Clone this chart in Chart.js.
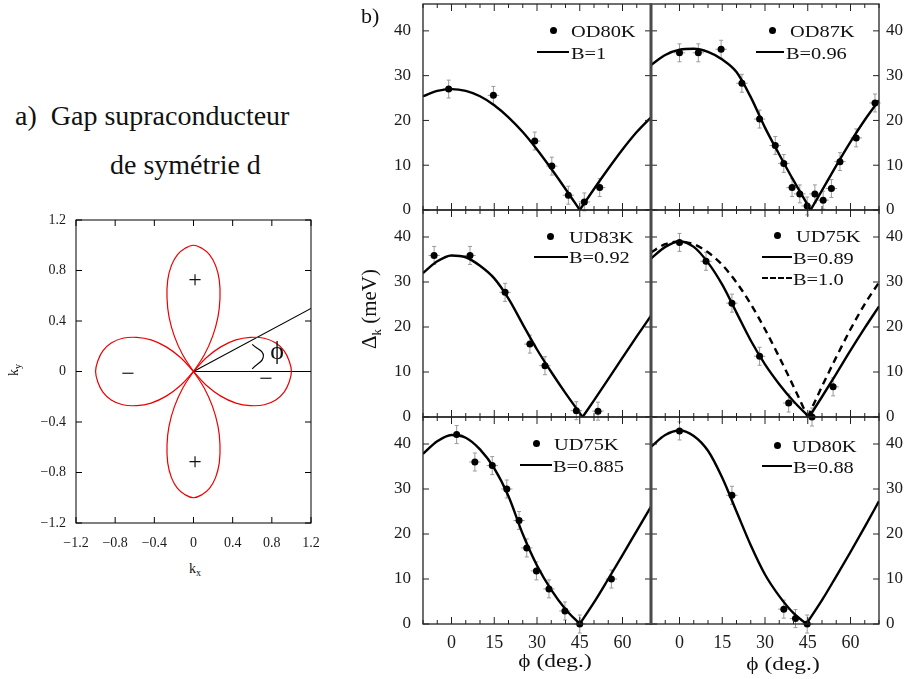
<!DOCTYPE html>
<html lang="fr">
<head>
<meta charset="utf-8">
<title>Gap supraconducteur de symétrie d</title>
<script src="https://cdn.jsdelivr.net/npm/chart.js@4.4.1/dist/chart.umd.min.js"></script>
<style>
  html, body { margin:0; padding:0; background:#fff; }
  body { width:913px; height:679px; position:relative; overflow:hidden;
         font-family:"Liberation Serif", "Times New Roman", serif; color:#111; }
  canvas { position:absolute; }
  .t { position:absolute; white-space:nowrap; line-height:1; }
  .dot { position:absolute; width:7px; height:7px; border-radius:50%; background:#000; }
  .trait { position:absolute; height:0; border-top:2.4px solid #000; }
  .tirets { border-top-style:dashed; }
</style>
</head>
<body>

<canvas id="cPolar" width="320" height="353" style="left:20px;top:200px"></canvas>
<canvas id="cOD80" width="280" height="222" style="left:379px;top:0px"></canvas>
<canvas id="cOD87" width="270" height="222" style="left:643px;top:0px"></canvas>
<canvas id="cUD83" width="280" height="231" style="left:379px;top:198px"></canvas>
<canvas id="cUD75a" width="270" height="231" style="left:643px;top:198px"></canvas>
<canvas id="cUD75b" width="280" height="264" style="left:379px;top:405px"></canvas>
<canvas id="cUD80" width="270" height="264" style="left:643px;top:405px"></canvas>

<script>
// ---------- a) lobes de la fonction gap d : rayon (0 à 45°)
const lobeAngles = [0, 5, 10, 15, 20, 25, 30, 35, 40, 45];
const lobeRadius = [1, 0.98, 0.94, 0.87, 0.77, 0.64, 0.5, 0.34, 0.17, 0];
const lobeCentres = [0, 90, 180, 270];
const polarTicks = [-1.2, -0.8, -0.4, 0, 0.4, 0.8, 1.2];
const axePhi = [{x: 0, y: 0}, {x: 1.2, y: 0}];
const rayonPhi = [{x: 0, y: 0}, {x: 1.2, y: 0.5}];
const arcPhi = [{x: 0.6, y: 0.215}, {x: 0.714, y: 0.124}, {x: 0.6, y: 0.02}];

// ---------- b) gap mesuré Δk (meV) en fonction de ϕ (deg.)
const phiMajor = [0, 15, 30, 45, 60];
const phiMinor = [-10, -5, 0, 5, 10, 15, 20, 25, 30, 35, 40, 45, 50, 55, 60, 65, 70];
const gapTicks = [0, 10, 20, 30, 40];
const ERR_GAP = 2;
const ERR_PHI = 2;

// OD80K, B=1
const od80Phi = [-1, 14.7, 29.2, 35.2, 41, 46.6, 52];
const od80Gap = [27, 25.6, 15.4, 9.8, 3.3, 1.8, 5];
const od80FitPhi = [-10, -5, 0, 5, 10, 15, 20, 25, 30, 35, 40, 45, 50, 55, 60, 65, 70];
const od80Fit = [25.4, 26.6, 27, 26.6, 25.4, 23.4, 20.7, 17.4, 13.5, 9.2, 4.7, 0, 4.7, 9.2, 13.5, 17.4, 20.7];

// OD87K, B=0.96
const od87Phi = [0, 6.6, 14.6, 21.9, 28.1, 33.6, 36.6, 39.5, 42.2, 44.8, 47.5, 50.4, 53.3, 56.3, 62, 68.6];
const od87Gap = [35.1, 35.1, 35.9, 28.3, 20.3, 14.4, 10.4, 5, 3.6, 0.9, 3.6, 2.2, 4.8, 10.8, 16.1, 23.9];
const od87FitPhi = [-10, -5, 0, 5, 10, 15, 20, 25, 30, 35, 40, 46, 50, 55, 60, 65, 70];
const od87Fit = [32.4, 34.6, 35.8, 36, 35.3, 33.6, 30.8, 25.2, 18.4, 12.4, 6.6, 0, 4.4, 9.9, 15.2, 20.1, 24.5];

// UD83K, B=0.92
const ud83Phi = [-6.1, 6.5, 18.8, 27.5, 32.8, 43.8, 51.4];
const ud83Gap = [35.9, 35.9, 27.7, 16.2, 11.4, 1.4, 1.3];
const ud83FitPhi = [-10, -5, 0, 5, 10, 15, 20, 25, 30, 35, 40, 46, 50, 55, 60, 65, 70];
const ud83Fit = [32, 34.6, 35.9, 35.5, 33.6, 30.8, 26.3, 20.6, 15, 10, 5.3, 0, 3.7, 8.4, 13.2, 17.9, 22.5];

// UD75K, B=0.89 et B=1.0
const ud75aPhi = [0, 9.3, 18.4, 28.1, 38.3, 46.5, 53.9];
const ud75aGap = [38.8, 34.6, 25.3, 13.5, 3.1, 0, 6.7];
const ud75aFitPhi = [-10, -5, 0, 5, 10, 15, 20, 25, 30, 35, 40, 45.5, 50, 55, 60, 65, 70];
const ud75aFit = [35.2, 37.8, 39, 37.8, 34.3, 29.4, 23.2, 17, 11.7, 7.3, 3.5, 0, 4.5, 9.6, 14.8, 19.8, 24.6];
const ud75aB1Phi = [-10, -5, 0, 5, 10, 15, 20, 25, 30, 35, 40, 45, 50, 55, 60, 65, 70];
const ud75aB1 = [36.6, 38.4, 39, 38.4, 36.6, 33.8, 29.9, 25.1, 19.5, 13.3, 6.8, 0, 6.8, 13.3, 19.5, 25.1, 29.9];

// UD75K, B=0.885
const ud75bPhi = [1.8, 8.2, 14.3, 19.4, 23.7, 26.4, 29.8, 34.2, 39.8, 45, 56.1];
const ud75bGap = [42.1, 36, 35.2, 30, 23, 16.9, 11.8, 7.8, 2.9, 0, 10];
const ud75bFitPhi = [-10, -5, 0, 5, 10, 15, 20, 25, 30, 35, 40, 45, 50, 55, 60, 65, 70];
const ud75bFit = [37.8, 40.6, 42, 41.4, 38.8, 34.6, 28.4, 20, 13, 7.6, 3.3, 0, 4.8, 10, 15.3, 20.7, 26.1];

// UD80K, B=0.88
const ud80Phi = [0, 18.4, 36.6, 40.7, 44.8];
const ud80Gap = [42.9, 28.6, 3.3, 1.2, 0];
const ud80FitPhi = [-10, -5, 0, 5, 10, 15, 20, 25, 30, 35, 40, 44.5, 50, 55, 60, 65, 70];
const ud80Fit = [39.4, 42, 43, 41.8, 38.5, 32.5, 25, 17.5, 11, 6.2, 2.4, 0, 5.3, 10.6, 16, 21.6, 27.3];


const SERIF = '"Liberation Serif", "Times New Roman", serif';
Chart.defaults.font.family = SERIF;
Chart.defaults.color = '#1a1a1a';

const pairs = (xs, ys) => xs.map((x, i) => ({x: x, y: ys[i]}));

// cadre + petites graduations tournées vers l'intérieur
const cadre = {
  id: 'cadre',
  afterDatasetsDraw(chart, args, o) {
    const {ctx, chartArea: a, scales} = chart;
    ctx.save();
    ctx.strokeStyle = o.color;
    ctx.lineWidth = 1;
    ctx.beginPath();
    o.xTicks.forEach(t => {
      const x = scales.x.getPixelForValue(t.v);
      ctx.moveTo(x, a.bottom); ctx.lineTo(x, a.bottom - t.len);
      ctx.moveTo(x, a.top); ctx.lineTo(x, a.top + t.len);
    });
    o.yTicks.forEach(t => {
      const y = scales.y.getPixelForValue(t.v);
      ctx.moveTo(a.left, y); ctx.lineTo(a.left + t.len, y);
      ctx.moveTo(a.right, y); ctx.lineTo(a.right - t.len, y);
    });
    ctx.stroke();
    ctx.lineWidth = o.width;
    ctx.strokeRect(a.left, a.top, a.right - a.left, a.bottom - a.top);
    if (o.divider) {
      ctx.strokeStyle = '#4a4a4a';
      ctx.lineWidth = 2.6;
      const x = o.divider === 'right' ? a.right : a.left;
      ctx.beginPath(); ctx.moveTo(x, a.top); ctx.lineTo(x, a.bottom); ctx.stroke();
    }
    ctx.restore();
  }
};

// barres d'erreur grises sous les points
const barres = {
  id: 'barres',
  beforeDatasetsDraw(chart) {
    const {ctx, scales: {x, y}} = chart;
    ctx.save();
    ctx.strokeStyle = '#9a9a9a';
    ctx.lineWidth = 1;
    chart.data.datasets.forEach(ds => {
      if (!ds.errorBars) return;
      ctx.beginPath();
      ds.data.forEach(p => {
        const px = x.getPixelForValue(p.x), py = y.getPixelForValue(p.y);
        const y0 = y.getPixelForValue(p.y - ds.errorBars.y), y1 = y.getPixelForValue(p.y + ds.errorBars.y);
        const x0 = x.getPixelForValue(p.x - ds.errorBars.x), x1 = x.getPixelForValue(p.x + ds.errorBars.x);
        ctx.moveTo(px, y0); ctx.lineTo(px, y1);
        ctx.moveTo(px - 2, y0); ctx.lineTo(px + 2, y0);
        ctx.moveTo(px - 2, y1); ctx.lineTo(px + 2, y1);
        ctx.moveTo(x0, py); ctx.lineTo(x1, py);
      });
      ctx.stroke();
    });
    ctx.restore();
  }
};


/* ---------------- a) lobes ---------------- */

function polaire(r, deg) {
  const a = deg * Math.PI / 180;
  return {x: r * Math.cos(a), y: r * Math.sin(a)};
}
function lobe(c) {
  const pts = [];
  for (let i = lobeAngles.length - 1; i >= 0; i--) pts.push(polaire(lobeRadius[i], c - lobeAngles[i]));
  for (let i = 1; i < lobeAngles.length; i++) pts.push(polaire(lobeRadius[i], c + lobeAngles[i]));
  return pts;
}

const polarDatasets = lobeCentres.map(c => ({
  data: lobe(c), showLine: true, tension: 0.4, pointRadius: 0,
  borderColor: 'rgb(236,0,0)', borderWidth: 1.2
}));
[axePhi, rayonPhi].forEach(d => polarDatasets.push({
  data: d, showLine: true, pointRadius: 0, borderColor: '#000', borderWidth: 1.1
}));
polarDatasets.push({data: arcPhi, showLine: true, tension: 0.5, pointRadius: 0, borderColor: '#000', borderWidth: 1.1});

const fmtPolar = v => v === 0 ? '0' : v.toFixed(1).replace('-', '\u2212');

new Chart(document.getElementById('cPolar'), {
  type: 'scatter',
  data: {datasets: polarDatasets},
  plugins: [cadre],
  options: {
    responsive: false, animation: false, devicePixelRatio: 1,
    layout: {padding: {left: 0, right: 29, top: 20, bottom: 0}},
    plugins: {
      legend: {display: false}, tooltip: {enabled: false},
      cadre: {
        color: '#000', width: 1,
        xTicks: polarTicks.map(v => ({v: v, len: 6})),
        yTicks: polarTicks.map(v => ({v: v, len: 6}))
      }
    },
    scales: {
      x: {
        type: 'linear', min: -1.2, max: 1.2,
        grid: {display: false, drawTicks: false}, border: {display: false},
        afterBuildTicks: s => { s.ticks = polarTicks.map(v => ({value: v})); },
        afterFit: s => { s.height = 30; s.paddingLeft = 0; s.paddingRight = 0; },
        ticks: {padding: 12, maxRotation: 0, font: {family: SERIF, size: 14}, callback: fmtPolar}
      },
      y: {
        type: 'linear', min: -1.2, max: 1.2,
        grid: {display: false, drawTicks: false}, border: {display: false},
        afterBuildTicks: s => { s.ticks = polarTicks.map(v => ({value: v})); },
        afterFit: s => { s.width = 56; s.paddingTop = 0; s.paddingBottom = 0; },
        ticks: {padding: 10, font: {family: SERIF, size: 14}, callback: fmtPolar}
      }
    }
  }
});


/* ---------------- b) six panneaux ---------------- */

// coupe la courbe ajustée au zéro pour garder la pointe en V
function courbe(xs, ys, dash) {
  const pts = pairs(xs, ys);
  let k = 0;
  ys.forEach((v, i) => { if (v < ys[k]) k = i; });
  return [pts.slice(0, k + 1), pts.slice(k)].map(seg => ({
    data: seg, showLine: true, pointRadius: 0, borderColor: '#000', borderWidth: 2.4,
    cubicInterpolationMode: 'monotone', borderDash: dash || []
  }));
}

function panneau(id, col, row, phi, gap, fits) {
  const datasets = [];
  fits.forEach(f => courbe(f.x, f.y, f.dash).forEach(d => datasets.push(d)));
  datasets.push({
    data: pairs(phi, gap), pointRadius: 3.5, pointBackgroundColor: '#000', pointBorderWidth: 0,
    clip: false, errorBars: {x: ERR_PHI, y: ERR_GAP}
  });
  const bas = row === 2;
  new Chart(document.getElementById(id), {
    type: 'scatter',
    data: {datasets: datasets},
    plugins: [barres, cadre],
    options: {
      responsive: false, animation: false, devicePixelRatio: 1,
      layout: {padding: {
        left: col === 0 ? 0 : 8, right: col === 0 ? 8 : 0,
        top: row === 0 ? 3 : 12, bottom: bas ? 0 : 12
      }},
      plugins: {
        legend: {display: false}, tooltip: {enabled: false},
        cadre: {
          color: '#222', width: 1.3, divider: col === 0 ? 'right' : 'left',
          xTicks: phiMinor.map(v => ({v: v, len: phiMajor.includes(v) ? 7 : 4})),
          yTicks: gapTicks.map(v => ({v: v, len: 6}))
        }
      },
      scales: {
        x: {
          type: 'linear', min: -10, max: 70, display: bas,
          grid: {display: false, drawTicks: false}, border: {display: false},
          afterBuildTicks: s => { s.ticks = phiMajor.map(v => ({value: v})); },
          afterFit: s => { s.height = bas ? 45 : 0; s.paddingLeft = 0; s.paddingRight = 0; },
          ticks: {padding: 8, maxRotation: 0, font: {family: SERIF, size: 18}}
        },
        y: {
          type: 'linear', min: 0, max: 46, position: col === 0 ? 'left' : 'right',
          grid: {display: false, drawTicks: false}, border: {display: false},
          afterBuildTicks: s => { s.ticks = gapTicks.map(v => ({value: v})); },
          afterFit: s => { s.width = col === 0 ? 44 : 34; s.paddingTop = 0; s.paddingBottom = 0; },
          ticks: {padding: col === 0 ? 12 : 7, font: {family: SERIF, size: 17}}
        }
      }
    }
  });
}

panneau('cOD80', 0, 0, od80Phi, od80Gap, [{x: od80FitPhi, y: od80Fit}]);
panneau('cOD87', 1, 0, od87Phi, od87Gap, [{x: od87FitPhi, y: od87Fit}]);
panneau('cUD83', 0, 1, ud83Phi, ud83Gap, [{x: ud83FitPhi, y: ud83Fit}]);
panneau('cUD75a', 1, 1, ud75aPhi, ud75aGap, [{x: ud75aFitPhi, y: ud75aFit}, {x: ud75aB1Phi, y: ud75aB1, dash: [7, 5]}]);
panneau('cUD75b', 0, 2, ud75bPhi, ud75bGap, [{x: ud75bFitPhi, y: ud75bFit}]);
panneau('cUD80', 1, 2, ud80Phi, ud80Gap, [{x: ud80FitPhi, y: ud80Fit}]);


/* ---------------- textes ---------------- */

function texte(html, x, y, size, o) {
  o = o || {};
  const d = document.createElement('div');
  d.className = 't';
  d.innerHTML = html;
  d.style.fontSize = size + 'px';
  d.style.left = x + 'px';
  d.style.top = y + 'px';
  const sx = o.sx || 1;
  if (o.rot) {
    d.style.transform = 'translate(-50%,-50%) rotate(-90deg)';
  } else if (o.centre) {
    d.style.transform = 'translate(-50%,-50%) scaleX(' + sx + ')';
  } else {
    d.style.transformOrigin = 'left center';
    d.style.transform = 'translateY(-50%) scaleX(' + sx + ')';
  }
  document.body.appendChild(d);
}
function point(x, y) {
  const d = document.createElement('div');
  d.className = 'dot';
  d.style.left = (x - 3.5) + 'px';
  d.style.top = (y - 3.5) + 'px';
  document.body.appendChild(d);
}
function trait(x0, x1, y, pointille) {
  const d = document.createElement('div');
  d.className = pointille ? 'trait tirets' : 'trait';
  d.style.left = x0 + 'px';
  d.style.width = (x1 - x0) + 'px';
  d.style.top = (y - 1.2) + 'px';
  document.body.appendChild(d);
}

texte('a)&nbsp; Gap supraconducteur', 15, 115.5, 28);
texte('de symétrie d', 110, 165, 28);
texte('k<sub style="font-size:10px">x</sub>', 195, 570, 14, {centre: true});
texte('k<sub style="font-size:10px">y</sub>', 15, 370, 14, {rot: true});
texte('+', 195, 279, 24, {centre: true});
texte('+', 195, 461, 24, {centre: true});
texte('\u2212', 128, 372.5, 24, {centre: true});
texte('\u2212', 266, 377.5, 24, {centre: true});
texte('\u03d5', 277, 350.7, 26, {centre: true});

texte('b)', 361, 15.5, 22);
texte('\u0394<sub style="font-size:13px">k</sub> (meV)', 371, 309, 21, {rot: true});
texte('\u03d5 (deg.)', 555, 661, 18, {centre: true, sx: 1.3});
texte('\u03d5 (deg.)', 783, 664, 18, {centre: true, sx: 1.3});

const LEG = 17, LSX = 1.2;
point(553, 30); texte('OD80K', 571, 31, LEG, {sx: LSX});
trait(537, 569, 52); texte('B=1', 571, 52.5, LEG, {sx: LSX});

point(772, 30); texte('OD87K', 790, 31, LEG, {sx: LSX});
trait(756, 784, 52); texte('B=0.96', 786, 52.5, LEG, {sx: LSX});

point(550, 236.7); texte('UD83K', 569, 237, LEG, {sx: LSX});
trait(534, 568, 256.7); texte('B=0.92', 569, 257, LEG, {sx: LSX});

point(777, 235); texte('UD75K', 796, 236, LEG, {sx: LSX});
trait(762, 792, 257); texte('B=0.89', 793, 257.5, LEG, {sx: LSX});
trait(762, 792, 278, true); texte('B=1.0', 793, 278.5, LEG, {sx: LSX});

point(536, 443); texte('UD75K', 554, 444, LEG, {sx: LSX});
trait(520, 552, 465); texte('B=0.885', 553, 465.5, LEG, {sx: LSX});

point(777, 445); texte('UD80K', 792, 446, LEG, {sx: LSX});
trait(762, 792, 466); texte('B=0.88', 793, 466.5, LEG, {sx: LSX});
</script>
</body>
</html>
